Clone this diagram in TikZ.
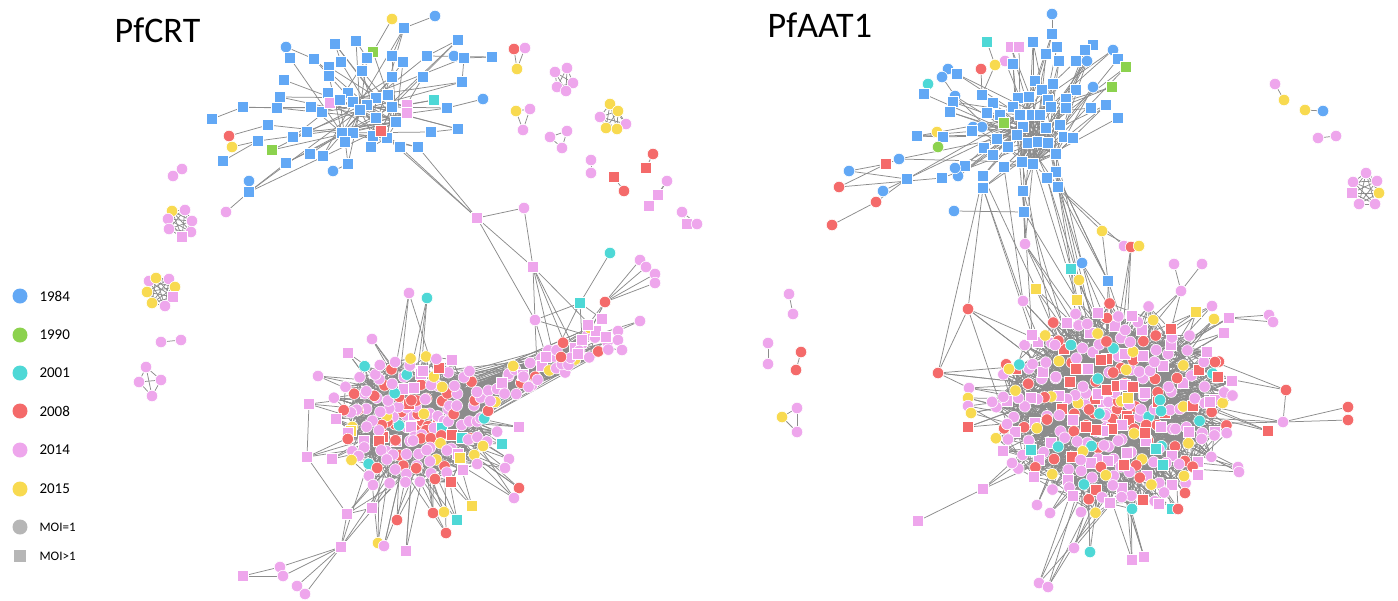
\documentclass[tikz,border=0pt]{standalone}
\usepackage{fontspec}
\setmainfont{Carlito}
\pgfdeclarelayer{paper}
\pgfdeclarelayer{edges}
\pgfsetlayers{paper,edges,main}
\definecolor{cB}{RGB}{98,168,245}
\definecolor{cG}{RGB}{140,210,78}
\definecolor{cC}{RGB}{78,216,214}
\definecolor{cR}{RGB}{244,106,106}
\definecolor{cP}{RGB}{238,166,236}
\definecolor{cY}{RGB}{248,218,80}
\definecolor{keygrey}{RGB}{182,182,182}
\definecolor{linkgrey}{RGB}{140,140,140}
\tikzset{
  vtx/.style={inner sep=0pt, draw=white, line width=0.6pt},
  cir/.style={vtx, circle, minimum size=11.5pt},
  sq/.style={vtx, rectangle, minimum size=11pt},
  link/.style={draw=linkgrey, line width=0.75pt},
  yeartxt/.style={anchor=west, font=\fontsize{15}{15}\selectfont},
  moitxt/.style={anchor=west, font=\fontsize{13}{13}\selectfont},
  title/.style={anchor=base west, font=\fontsize{36}{40}\selectfont},
}
% colour palettes, indexed 0..19
\newcommand\palOut[1]{\edef\col{c\ifcase#1 P\or P\or R\or P\or P\or Y\or P\or P\or R\or P\or P\or C\or P\or P\or R\or P\or Y\or P\or P\or R\else P\fi}}
\newcommand\palIn[1]{\edef\col{c\ifcase#1 R\or P\or R\or P\or R\or P\or P\or R\or P\or Y\or R\or P\or P\or R\or P\or R\or P\or C\or P\or R\else P\fi}}
\newcommand\palAAT[1]{\edef\col{c\ifcase#1 P\or R\or P\or P\or Y\or P\or R\or P\or P\or P\or P\or R\or P\or P\or Y\or P\or R\or P\or C\or P\else P\fi}}
\newcommand\palArm[1]{\edef\col{c\ifcase#1 P\or P\or P\or Y\or P\or P\or P\or R\or P\or P\else P\fi}}
% a list of vertices x/y/shape/colour named <prefix><n>
\newcommand\vertices[2]{\foreach \vx/\vy/\vs/\vc [count=\n] in {#2}{\node[\vs,fill=\vc] (#1\n) at (\vx,\vy) {};\xdef\grpsize{\n}}}
% a small component: all members linked to each other
\newcommand\netgroup[2]{\vertices{#1}{#2}%
  \begin{pgfonlayer}{edges}
  \foreach \a in {1,...,\grpsize}{\foreach \b in {1,...,\grpsize}{\ifnum\a<\b \draw[link] (#1\a) -- (#1\b);\fi}}
  \end{pgfonlayer}}
\newcommand\links[1]{\begin{pgfonlayer}{edges}\foreach \a/\b in {#1}{\draw[link] (\a) -- (\b);}\end{pgfonlayer}}

\begin{document}
\begin{tikzpicture}[x=1pt,y=-1pt]
\useasboundingbox (0,0) rectangle (1398,600);
\begin{pgfonlayer}{paper}
\fill[white] (0,0) rectangle (1398,600);
\end{pgfonlayer}

% ---------- titles ----------
\node[title] (ttlcrt) at (111,42) {PfCRT};
\node[title] (ttlaat) at (764,37) {PfAAT1};

% ---------- legend ----------
\foreach \yy/\cc/\tt [count=\n] in {296/cB/1984,335/cG/1990,373/cC/2001,411/cR/2008,450/cP/2014,489/cY/2015}{
  \node[circle,inner sep=0pt,minimum size=15pt,fill=\cc] (key\n) at (20,\yy) {};
  \node[yeartxt] (keytxt\n) at (36,\yy) {\tt};
}
\node[circle,inner sep=0pt,minimum size=15pt,fill=keygrey] (moione) at (20,527) {};
\node[moitxt] (moionetxt) at (36,527) {MOI=1};
\node[rectangle,inner sep=0pt,minimum size=12pt,fill=keygrey] (moimany) at (20,556) {};
\node[moitxt] (moimanytxt) at (36,556) {MOI>1};

% ================= PfCRT =================
% core of the lower component
\foreach \i in {1,...,170}{
  \pgfmathsetmacro\fr{\i*0.381966-floor(\i*0.381966)}
  \pgfmathsetmacro\rr{(\i/170)^0.7}
  \pgfmathsetmacro\xx{415+82*\rr*cos(360*\fr)+4*sin(\i*57)}
  \pgfmathsetmacro\yy{420+68*\rr*sin(360*\fr)+4*cos(\i*41)}
  \pgfmathtruncatemacro\k{mod(\i*7+3,20)}
  \ifnum\i<70 \palIn{\k}\else\palOut{\k}\fi
  \pgfmathtruncatemacro\q{mod(\i*5,7)}
  \ifnum\q=0 \def\sh{sq}\else\def\sh{cir}\fi
  \node[\sh,fill=\col] (A\i) at (\xx,\yy) {};
}
% arm towards the upper right
\foreach \i in {1,...,44}{
  \pgfmathsetmacro\t{\i/44}
  \pgfmathsetmacro\xx{492+112*\t+7*cos(\i*83)}
  \pgfmathsetmacro\yy{392-55*\t+13*sin(\i*59)}
  \pgfmathtruncatemacro\k{mod(\i*3,10)}
  \palArm{\k}
  \pgfmathtruncatemacro\q{mod(\i*5,6)}
  \ifnum\q=0 \def\sh{sq}\else\def\sh{cir}\fi
  \node[\sh,fill=\col] (B\i) at (\xx,\yy) {};
}
\begin{pgfonlayer}{edges}
\foreach \i in {1,...,170}{
  \foreach \m in {13,29,41,53,61}{
    \pgfmathtruncatemacro\j{mod(\i*\m+\m,170)+1}
    \ifnum\j=\i\else\draw[link] (A\i) -- (A\j);\fi
  }
}
\foreach \i in {1,...,44}{
  \foreach \m in {7,11,17,23}{
    \pgfmathtruncatemacro\j{mod(\i*\m,60)+1}
    \draw[link] (B\i) -- (A\j);
  }
  \foreach \m in {5,13}{
    \pgfmathtruncatemacro\j{mod(\i*\m+3,44)+1}
    \ifnum\j=\i\else\draw[link] (B\i) -- (B\j);\fi
  }
}
\end{pgfonlayer}

% top component
\vertices{T}{286/47/cir/cB,335/44/sq/cB,356/41/sq/cB,392/19/cir/cY,435/16/cir/cB,404/28/sq/cB,373/52/sq/cG,458/40/sq/cB,290/58/sq/cB,314/59/sq/cB,
341/62/sq/cB,367/58/sq/cB,392/56/sq/cB,403/62/sq/cB,427/56/sq/cB,454/56/cir/cB,464/58/sq/cB,492/57/sq/cB,329/67/sq/cB,362/71/sq/cB,
329/76/sq/cB,392/77/sq/cB,423/77/sq/cB,462/82/sq/cB,284/80/sq/cB,280/97/sq/cB,328/93/sq/cB,348/93/sq/cB,388/95/sq/cB,376/98/sq/cB,
243/107/sq/cB,277/108/sq/cB,311/107/sq/cB,322/112/sq/cB,330/103/sq/cP,340/100/sq/cB,353/102/sq/cB,367/105/sq/cB,360/110/sq/cB,392/107/sq/cB,
407/105/sq/cP,407/113/sq/cP,434/100/sq/cC,447/108/sq/cB,483/99/cir/cB,212/119/sq/cB,268/125/sq/cB,293/137/sq/cB,307/132/sq/cB,342/133/sq/cB,
353/133/sq/cB,376/118/sq/cB,396/122/sq/cB,373/136/sq/cB,387/138/sq/cB,381/131/sq/cR,431/132/sq/cB,458/129/sq/cB,229/136/cir/cR,232/147/cir/cY,
258/141/sq/cB,272/150/sq/cG,345/142/sq/cB,371/147/sq/cB,400/147/sq/cB,418/147/sq/cB,223/161/sq/cB,286/163/sq/cB,310/154/sq/cB,323/156/sq/cB,
333/171/cir/cB,348/164/sq/cB,249/181/cir/cB,249/192/sq/cB,226/212/cir/cP}
\begin{pgfonlayer}{edges}
\foreach \i in {2,3,6,7,8,9,10,11,12,13,14,15,17,19,20,21,22,23,24,25,26,27,28,29,30,31,32,33,34,35,36,37,38,39,40,41,42,43,44,47,48,49,50,51,52,53,54,55,56,57,58,61,62,63,64,65,66,68,69,70,72,74}{
  \pgfmathtruncatemacro\h{{36,37,38,39,52,53,54,55,56,50,30,40}[mod(\i*5,12)]}
  \ifnum\h=\i\else\draw[link] (T\i) -- (T\h);\fi
  \pgfmathtruncatemacro\g{{36,37,38,39,52,53,54,55,56,50,30,40}[mod(\i*7+3,12)]}
  \ifodd\i\else\ifnum\g=\i\else\draw[link] (T\i) -- (T\g);\fi\fi
}
\end{pgfonlayer}
\links{T4/T7,T5/T6,T6/T13,T1/T10,T16/T17,T17/T18,T17/T24,T45/T44,T43/T41,T46/T31,T31/T32,T59/T47,T60/T61,T67/T61,T73/T74,T74/T68,T75/T74,T71/T72,T2/T11,T3/T12,T8/T15,T57/T58,T18/T15,T36/T52,T37/T56,T38/T55,T39/T54,T29/T53}

% periphery of the lower component
\vertices{u}{477/218/sq/cP,524/208/cir/cP,533/267/sq/cP,610/253/cir/cC,580/303/sq/cC,605/302/cir/cR,640/260/cir/cP,646/267/cir/cP,655/274/cir/cP,655/283/cir/cP,
535/320/cir/cP,409/293/cir/cP,427/298/cir/cC,372/339/cir/cP,348/353/sq/cP,318/376/cir/cP,309/404/sq/cP,307/457/sq/cP,332/459/sq/cP,347/514/sq/cP,
372/508/sq/cP,373/485/cir/cP,341/547/sq/cP,378/543/cir/cY,384/546/cir/cP,406/551/sq/cP,397/520/cir/cR,433/513/cir/cR,444/512/cir/cY,457/520/sq/cC,
446/533/cir/cR,472/506/sq/cY,519/488/cir/cR,514/498/cir/cP,509/459/cir/cP,505/468/cir/cP,502/444/sq/cC,483/446/cir/cY,519/427/sq/cP,280/567/cir/cP,
283/576/cir/cP,297/586/cir/cP,305/594/cir/cP,243/576/sq/cP,602/319/sq/cP,588/325/sq/cP,606/337/sq/cP,578/354/sq/cP,618/331/cir/cP,640/321/cir/cP,
618/340/cir/cP,622/350/cir/cP,561/357/cir/cR}
\links{u1/u2,u1/u3,u2/u3,u1/T66,u1/T65,u1/T55,u1/u11,u3/u11,u3/B30,u3/B25,u3/B33,u4/u5,u5/u11,u5/B34,u5/B28,u6/u7,u6/u8,u6/u9,u6/u10,u6/B35,u6/B31,
u17/u18,u18/u20,u20/u21,u20/u23,u23/u40,u23/u41,u23/u42,u23/u43,u44/u40,u44/u41,u45/B33,u46/B30,u47/u53,u48/B28,u49/B35,u50/B36,u51/B32,u52/B29,
u45/u5,u46/u6,u49/u50,u47/u51,u11/B20,u11/B24,u11/B40,u3/B42}
\begin{pgfonlayer}{edges}
\foreach \i in {12,...,39,53}{
  \pgfmathtruncatemacro\j{mod(\i*17,70)+1}
  \draw[link] (u\i) -- (A\j);
  \pgfmathtruncatemacro\j{mod(\i*31,110)+1}
  \draw[link] (u\i) -- (A\j);
  \pgfmathtruncatemacro\j{mod(\i*43,50)+1}
  \draw[link] (u\i) -- (A\j);
}
\end{pgfonlayer}

% separate small components
\netgroup{ga}{173/176/cir/cP,182/169/cir/cP}
\netgroup{gb}{172/211/cir/cY,185/210/cir/cP,168/219/cir/cP,192/221/cir/cP,169/229/cir/cP,191/232/cir/cP,182/237/sq/cP}
\netgroup{gc}{149/281/cir/cP,156/278/cir/cY,169/279/cir/cP,147/292/cir/cY,175/287/cir/cY,173/297/sq/cP,152/303/cir/cY,165/306/cir/cP}
\netgroup{gd}{161/342/cir/cP,181/340/cir/cP}
\netgroup{ge}{146/367/cir/cP,139/382/cir/cP,161/380/cir/cP,152/396/cir/cP}
\netgroup{gf}{514/49/cir/cR,525/48/cir/cP,517/69/cir/cY}
\netgroup{gg}{555/72/cir/cP,567/68/cir/cP,573/83/cir/cP,557/87/cir/cP,566/91/cir/cP}
\netgroup{gh}{516/111/cir/cY,530/109/cir/cP,523/130/cir/cP}
\netgroup{gi}{550/137/cir/cP,567/131/cir/cP,562/148/cir/cP}
\netgroup{gj}{610/104/cir/cY,618/111/cir/cY,600/117/cir/cP,626/124/cir/cP,606/128/cir/cY,617/129/cir/cY}
\netgroup{gk}{591/160/cir/cP,591/173/cir/cP}
\netgroup{gl}{614/177/sq/cR,624/191/cir/cR}
\netgroup{gm}{653/154/cir/cR,646/168/sq/cR}
\netgroup{gn}{667/181/cir/cP,658/195/sq/cP,649/206/sq/cP}
\netgroup{go}{682/212/cir/cP,687/224/sq/cP,697/224/cir/cP}

% ================= PfAAT1 =================
% core of the lower component
\foreach \i in {1,...,280}{
  \pgfmathsetmacro\fr{\i*0.381966-floor(\i*0.381966)}
  \pgfmathsetmacro\rr{(\i/280)^0.68}
  \pgfmathsetmacro\xx{1112+120*\rr*cos(360*\fr)+5*sin(\i*53)}
  \pgfmathsetmacro\yy{408+104*\rr*sin(360*\fr)+5*cos(\i*41)}
  \pgfmathtruncatemacro\k{mod(\i*7+3,20)}
  \ifnum\i<90 \palIn{\k}\else\palAAT{\k}\fi
  \pgfmathtruncatemacro\q{mod(\i*5,4)}
  \ifnum\q=0 \def\sh{sq}\else\def\sh{cir}\fi
  \node[\sh,fill=\col] (C\i) at (\xx,\yy) {};
}
\begin{pgfonlayer}{edges}
\foreach \i in {1,...,280}{
  \foreach \m in {13,29,41,53,47}{
    \pgfmathtruncatemacro\j{mod(\i*\m+\m,280)+1}
    \ifnum\j=\i\else\draw[link] (C\i) -- (C\j);\fi
  }
}
\end{pgfonlayer}

% top component
\vertices{D}{1052/14/cir/cB,1052/34/sq/cB,987/42/sq/cC,1011/47/sq/cP,1019/47/sq/cP,1033/42/sq/cB,1057/47/sq/cB,1093/45/sq/cB,1085/50/sq/cB,1113/50/cir/cB,
1005/61/cir/cP,995/65/cir/cY,981/69/cir/cR,1013/64/sq/cB,1046/54/sq/cB,1059/61/sq/cB,1076/61/sq/cB,1087/61/cir/cB,1118/59/sq/cB,1126/67/sq/cG,
948/69/cir/cB,957/74/sq/cB,942/77/cir/cB,928/84/cir/cC,924/94/sq/cB,955/96/cir/cB,953/102/sq/cB,950/112/sq/cB,1035/81/sq/cB,1053/84/sq/cB,
1042/90/sq/cB,1076/90/sq/cB,1093/87/cir/cB,1112/87/sq/cG,982/95/sq/cB,993/103/sq/cB,1018/98/sq/cB,1029/97/sq/cB,1048/100/sq/cB,1066/99/sq/cB,
1091/108/sq/cB,1106/105/sq/cB,1118/118/sq/cB,1013/107/sq/cB,1032/115/sq/cB,1051/107/sq/cB,1066/108/sq/cB,987/113/sq/cB,1000/115/sq/cB,1020/115/sq/cB,
1040/115/sq/cB,1004/123/sq/cG,1023/127/sq/cB,1046/128/sq/cB,1060/125/sq/cB,973/127/cir/cB,982/127/cir/cB,972/131/sq/cB,937/132/cir/cY,917/136/sq/cB,
943/137/sq/cB,938/147/cir/cG,997/139/sq/cB,1017/135/sq/cB,1028/143/sq/cB,1038/142/sq/cB,1048/143/sq/cB,1064/137/sq/cB,1073/138/sq/cB,984/148/sq/cB,
1008/147/sq/cB,993/155/sq/cB,1056/154/sq/cB,899/159/cir/cB,886/164/sq/cR,849/171/cir/cB,965/166/sq/cB,1004/167/sq/cB,1022/162/sq/cB,1033/164/sq/cB,
1056/172/sq/cB,907/179/sq/cB,942/178/sq/cB,958/176/cir/cB,955/168/cir/cB,839/187/cir/cR,983/176/sq/cB,983/188/sq/cB,1047/178/sq/cB,1058/187/sq/cB,
1023/191/sq/cB,883/191/cir/cB,876/202/cir/cR,832/225/cir/cR,954/211/cir/cB,1024/212/sq/cB}
\begin{pgfonlayer}{edges}
\foreach \a in {45,50,51,53,54,64,65,66,67,73,79,80}{
  \foreach \b in {45,50,51,53,54,64,65,66,67,73,79,80}{\ifnum\a<\b \draw[link] (D\a) -- (D\b);\fi}
}
\foreach \i in {2,4,5,6,7,8,9,10,11,14,15,16,17,18,19,20,22,25,26,27,28,29,30,31,32,33,34,35,36,37,38,39,40,41,42,43,44,46,47,48,49,52,55,56,57,58,60,61,63,68,69,70,71,72,74,77,78,81,82,83,84,85,87,88,89,90,91,96}{
  \pgfmathtruncatemacro\h{{45,50,51,53,54,64,65,66,67,73,79,80}[mod(\i*5,12)]}
  \draw[link] (D\i) -- (D\h);
  \pgfmathtruncatemacro\g{{45,50,51,53,54,64,65,66,67,73,79,80}[mod(\i*7+3,12)]}
  \ifodd\i\else\draw[link] (D\i) -- (D\g);\fi
  \pgfmathtruncatemacro\r{mod(\i,3)}
  \pgfmathtruncatemacro\g{{45,50,51,53,54,64,65,66,67,73,79,80}[mod(\i*11+5,12)]}
  \ifnum\r=0 \draw[link] (D\i) -- (D\g);\fi
}
\end{pgfonlayer}
\links{D1/D2,D3/D12,D12/D35,D13/D35,D11/D14,D76/D75,D86/D75,D75/D74,D94/D93,D93/D82,D92/D82,D95/D96,D24/D25,D21/D22,D23/D26,D59/D61,D62/D61,D60/D61,D76/D82,D86/D83}

% periphery of the lower component
\vertices{w}{1025/244/cir/cP,1102/231/cir/cY,1082/263/cir/cB,1071/269/sq/cC,1108/281/sq/cB,1079/280/cir/cY,1036/289/sq/cY,1077/300/sq/cY,1023/301/cir/cP,968/309/cir/cR,
1174/264/cir/cP,1202/264/cir/cP,1181/291/cir/cP,1212/306/cir/cP,1196/312/sq/cY,1214/319/cir/cY,1229/318/sq/cP,1269/315/cir/cP,1273/322/cir/cP,1032/335/sq/cP,
1224/333/sq/cP,938/373/cir/cR,1009/369/cir/cY,1215/362/cir/cR,1218/377/sq/cR,1286/390/cir/cR,969/388/cir/cP,968/398/cir/cY,968/406/cir/cP,971/413/cir/cY,
968/427/sq/cR,1210/402/sq/cP,1348/407/cir/cR,1348/420/cir/cR,1283/422/cir/cP,1268/431/sq/cR,1007/424/cir/cP,1031/450/sq/cC,1012/463/cir/cP,1184/476/cir/cY,
1198/475/sq/cP,1238/467/cir/cP,1239/472/cir/cP,983/489/sq/cP,918/521/sq/cP,1159/504/sq/cP,1172/509/sq/cC,1178/509/cir/cR,1185/493/cir/cR,1037/505/cir/cP,
1050/513/cir/cP,1081/512/cir/cP,1074/548/cir/cP,1090/552/cir/cC,1132/560/sq/cP,1144/557/sq/cP,1039/583/cir/cP,1048/587/cir/cP,1124/246/cir/cP,1131/247/cir/cR,
1139/246/cir/cY,1160/400/cir/cC,1161/411/cir/cC,1156/449/sq/cC,1163/465/sq/cC,1128/398/sq/cY,1145/433/sq/cR,1124/465/sq/cR,1101/360/sq/cR,1076/369/sq/cR,
1055/345/cir/cP}
\links{w2/w60,w2/w5,w59/w60,w61/w60,w11/w13,w12/w13,w33/w35,w34/w35,w26/w35,w26/w24,w26/w25,w18/w17,w19/w17,w45/w44,w10/w22,w22/w27,w10/w37,w10/D88,
w1/D91,w1/D96,w3/D90,w4/D89,w5/D81,D87/w7,D88/w9,D91/w20,D96/w8,D90/w5,D89/w6,D73/w3,D81/w4,D80/w1,D79/w71,D78/w9,D65/w8,D67/w6,D54/w69,D91/w70,
D88/w20,D87/w22,D81/w5,D90/w59,D89/w2}
\begin{pgfonlayer}{edges}
\foreach \i in {1,3,4,5,6,7,8,9,10,13,14,15,16,17,20,21,22,23,24,25,27,28,29,30,31,32,35,36,37,38,39,40,41,42,43,44,46,47,48,49,50,51,52,53,54,55,56,57,58,60,62,63,64,65,66,67,68,69,70,71}{
  \pgfmathtruncatemacro\j{mod(\i*17,90)+1}
  \draw[link] (w\i) -- (C\j);
  \pgfmathtruncatemacro\j{mod(\i*31,150)+1}
  \draw[link] (w\i) -- (C\j);
  \pgfmathtruncatemacro\j{mod(\i*43,60)+1}
  \draw[link] (w\i) -- (C\j);
}
\end{pgfonlayer}

% separate small components
\netgroup{ha}{789/294/cir/cP,793/314/cir/cP}
\netgroup{hb}{768/343/cir/cP,768/364/cir/cP}
\netgroup{hc}{801/352/cir/cR,796/370/cir/cR}
\netgroup{hd}{782/417/cir/cY,797/408/cir/cP,797/432/cir/cP}
\netgroup{he}{1275/84/cir/cP,1284/100/cir/cY}
\netgroup{hf}{1305/110/cir/cY,1323/111/cir/cB}
\netgroup{hg}{1318/138/cir/cP,1336/136/cir/cP}
\netgroup{hh}{1366/173/cir/cP,1377/181/cir/cP,1353/182/cir/cP,1352/193/sq/cP,1379/193/cir/cY,1359/204/cir/cP,1375/204/cir/cP}
\end{tikzpicture}
\end{document}
